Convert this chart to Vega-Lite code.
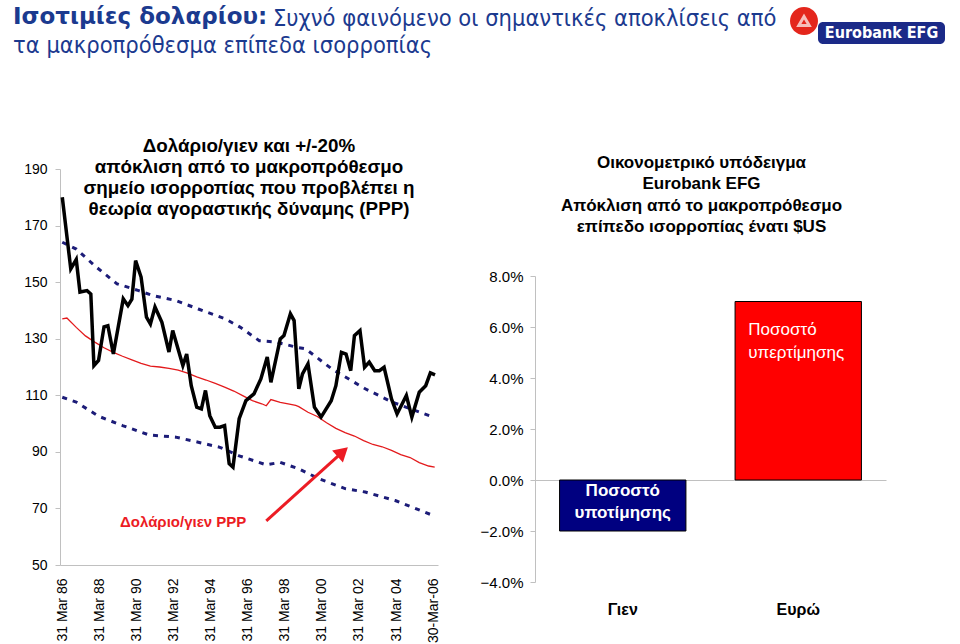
{
  "$schema": "https://vega.github.io/schema/vega-lite/v6.json",
  "background": "white",
  "padding": {"left": 13, "top": 5, "right": 5, "bottom": 0},
  "config": {
    "view": {"stroke": null},
    "font": "Liberation Sans",
    "axis": {"labelFont": "Liberation Sans", "labelColor": "#000000"}
  },
  "datasets": {
    "jpy": [
      {"d":"1986-04-01","v":180},{"d":"1986-09-15","v":154.7},{"d":"1987-01-01","v":158},{"d":"1987-03-15","v":146.5},
      {"d":"1987-08-01","v":147},{"d":"1987-10-15","v":145.8},{"d":"1987-12-15","v":120.5},{"d":"1988-03-15","v":122.3},
      {"d":"1988-07-01","v":134.2},{"d":"1988-09-15","v":134.6},{"d":"1989-01-01","v":124.6},{"d":"1989-07-15","v":144.1},
      {"d":"1989-10-15","v":141.7},{"d":"1990-01-01","v":144},{"d":"1990-03-15","v":157.6},{"d":"1990-07-01","v":151.8},
      {"d":"1990-10-15","v":137.6},{"d":"1991-01-01","v":135.2},{"d":"1991-04-01","v":141.2},{"d":"1991-08-15","v":135.8},
      {"d":"1992-01-01","v":125.3},{"d":"1992-03-15","v":132.9},{"d":"1992-10-01","v":120.5},{"d":"1992-12-15","v":124.6},
      {"d":"1993-03-15","v":113.4},{"d":"1993-07-01","v":105.8},{"d":"1993-10-01","v":105.2},{"d":"1993-12-20","v":111.7},
      {"d":"1994-03-15","v":102.8},{"d":"1994-07-01","v":98.7},{"d":"1994-10-01","v":98.7},{"d":"1995-01-01","v":99.3},
      {"d":"1995-04-01","v":85.8},{"d":"1995-06-15","v":84.6},{"d":"1995-10-15","v":101.7},{"d":"1996-02-25","v":108.1},
      {"d":"1996-08-01","v":110.5},{"d":"1996-12-15","v":115.8},{"d":"1997-04-20","v":123.5},{"d":"1997-07-01","v":114.6},
      {"d":"1998-01-01","v":129.9},{"d":"1998-03-15","v":131.1},{"d":"1998-07-20","v":138.8},{"d":"1998-10-01","v":136.4},
      {"d":"1999-01-01","v":112.3},{"d":"1999-03-15","v":117.6},{"d":"1999-07-01","v":121.1},{"d":"1999-11-05","v":105.8},
      {"d":"2000-03-15","v":102.3},{"d":"2000-10-01","v":108.1},{"d":"2001-01-01","v":113.4},{"d":"2001-04-20","v":125.2},
      {"d":"2001-07-20","v":124.6},{"d":"2001-10-20","v":118.7},{"d":"2002-01-01","v":131.1},{"d":"2002-04-20","v":132.9},
      {"d":"2002-07-20","v":119.9},{"d":"2002-10-20","v":121.7},{"d":"2003-02-05","v":118.7},{"d":"2003-05-08","v":118.7},
      {"d":"2003-08-08","v":119.9},{"d":"2004-01-01","v":108.7},{"d":"2004-04-20","v":103.4},{"d":"2004-10-20","v":109.9},
      {"d":"2005-02-05","v":102.3},{"d":"2005-07-01","v":111.1},{"d":"2005-11-05","v":113.4},{"d":"2006-02-05","v":117.9},
      {"d":"2006-05-08","v":117.2}
    ],
    "ppp": [
      {"d":"1986-04-01","v":137.0},{"d":"1986-07-01","v":137.3},{"d":"1987-01-01","v":134.0},{"d":"1987-07-01","v":131.0},
      {"d":"1988-01-01","v":128.8},{"d":"1988-07-01","v":126.8},{"d":"1989-01-01","v":125.2},{"d":"1989-07-01","v":123.8},
      {"d":"1990-01-01","v":122.5},{"d":"1990-07-01","v":121.3},{"d":"1991-01-01","v":120.3},{"d":"1991-07-01","v":120.0},
      {"d":"1992-01-01","v":119.5},{"d":"1992-07-01","v":118.9},{"d":"1993-01-01","v":117.8},{"d":"1993-07-01","v":116.5},
      {"d":"1994-01-01","v":115.4},{"d":"1994-07-01","v":114.2},{"d":"1995-01-01","v":112.9},{"d":"1995-07-01","v":111.5},
      {"d":"1996-01-01","v":109.8},{"d":"1996-07-01","v":108.1},{"d":"1997-01-01","v":107.0},{"d":"1997-04-01","v":106.3},
      {"d":"1997-07-01","v":108.5},{"d":"1998-01-01","v":107.5},{"d":"1998-07-01","v":106.9},{"d":"1998-11-01","v":106.4},
      {"d":"1999-01-01","v":106.0},{"d":"1999-07-01","v":104.0},{"d":"2000-01-01","v":102.5},{"d":"2000-07-01","v":100.3},
      {"d":"2001-01-01","v":98.3},{"d":"2001-07-01","v":96.8},{"d":"2002-01-01","v":95.6},{"d":"2002-07-01","v":94.0},
      {"d":"2003-01-01","v":92.6},{"d":"2003-07-01","v":91.8},{"d":"2004-01-01","v":90.5},{"d":"2004-07-01","v":89.0},
      {"d":"2005-01-01","v":88.0},{"d":"2005-07-01","v":86.2},{"d":"2006-01-01","v":85.0},{"d":"2006-05-01","v":84.6}
    ],
    "up": [
      {"d":"1986-04-01","v":164.1},{"d":"1987-01-01","v":161.7},{"d":"1988-02-01","v":155.3},{"d":"1989-03-15","v":149.4},
      {"d":"1990-05-15","v":147.0},{"d":"1991-03-01","v":145.2},{"d":"1992-05-15","v":143.5},{"d":"1993-08-01","v":140.5},
      {"d":"1995-01-15","v":137.0},{"d":"1995-11-01","v":134.1},{"d":"1996-11-15","v":129.3},{"d":"1997-10-15","v":128.8},
      {"d":"1998-11-15","v":127.0},{"d":"1999-05-15","v":126.4},{"d":"2000-10-15","v":119.3},{"d":"2002-08-01","v":112.3},
      {"d":"2004-01-15","v":107.6},{"d":"2006-04-01","v":102.3}
    ],
    "lo": [
      {"d":"1986-04-01","v":109.3},{"d":"1987-01-01","v":107.6},{"d":"1988-03-15","v":102.6},{"d":"1989-07-01","v":99.3},
      {"d":"1990-12-01","v":96.0},{"d":"1992-05-15","v":95.2},{"d":"1993-08-01","v":93.4},{"d":"1994-10-01","v":91.6},
      {"d":"1995-10-15","v":88.6},{"d":"1997-04-01","v":85.4},{"d":"1998-01-01","v":86.3},{"d":"1999-01-01","v":84.0},
      {"d":"2000-02-01","v":80.5},{"d":"2001-07-01","v":77.0},{"d":"2002-08-01","v":75.8},{"d":"2004-03-15","v":72.8},
      {"d":"2006-04-01","v":67.5}
    ],
    "arrow": [{"d":"1997-04-01","v":65.6,"d2":"2001-05-15","v2":90.0}],
    "head": [{"d":"2001-05-15","v":90.0}],
    "note": [{"d":"1992-10-07","v":63.5,"t":"Δολάριο/γιεν PPP"}],
    "bars": [
      {"cur":"Γιεν","v":-0.02,"label":"Ποσοστό\nυποτίμησης"},
      {"cur":"Ευρώ","v":0.07,"label":"Ποσοστό\nυπερτίμησης"}
    ]
  },
  "spacing": 80,
  "vconcat": [
    {
      "spacing": 0,
      "bounds": "flush",
      "hconcat": [
        {
          "width": 213, "height": 28,
          "data": {"values": []},
          "mark": "text",
          "title": {
            "text": "Ισοτιμίες δολαρίου:",
            "subtitle": "τα μακροπρόθεσμα επίπεδα ισορροπίας",
            "anchor": "start", "frame": "group", "dx": -47, "offset": -50,
            "font": "DejaVu Sans", "subtitleFont": "DejaVu Sans Condensed, DejaVu Sans",
            "fontSize": 23, "subtitleFontSize": 23.5, "fontWeight": "bold", "subtitleFontWeight": "normal",
            "lineHeight": 27, "subtitleLineHeight": 27, "subtitlePadding": 5,
            "color": "#1b3a8f", "subtitleColor": "#1b3a8f"
          }
        },
        {
          "width": 517, "height": 28,
          "data": {"values": []},
          "mark": "text",
          "title": {
            "text": "Συχνό φαινόμενο οι σημαντικές αποκλίσεις από",
            "anchor": "start", "frame": "group", "offset": -23,
            "font": "DejaVu Sans Condensed, DejaVu Sans", "fontSize": 23.5, "fontWeight": "normal",
            "lineHeight": 27, "color": "#1b3a8f"
          }
        },
        {
          "width": 28, "height": 28,
          "view": {"fill": "#e4261c", "cornerRadius": 14, "stroke": null},
          "data": {"values": [{"k": 1}]},
          "mark": {"type": "point", "shape": "triangle-up", "filled": false, "stroke": "white", "strokeWidth": 3, "size": 110},
          "encoding": {}
        },
        {
          "spacing": 14,
          "vconcat": [
            {"width": 127, "height": 1, "data": {"values": []}, "mark": "text"},
            {
              "width": 127, "height": 22,
              "view": {"fill": "#1b2a88", "cornerRadius": 5, "stroke": null},
              "data": {"values": [{"t": "Eurobank EFG"}]},
              "mark": {"type": "text", "color": "white", "fontSize": 16, "fontWeight": "bold", "font": "DejaVu Sans Condensed, DejaVu Sans"},
              "encoding": {"text": {"field": "t"}}
            }
          ]
        }
      ]
    },
    {
      "spacing": 37,
      "hconcat": [
        {
          "width": 378, "height": 396,
          "title": {
            "text": ["Δολάριο/γιεν και +/-20%", "απόκλιση από το μακροπρόθεσμο", "σημείο ισορροπίας που προβλέπει η", "θεωρία αγοραστικής δύναμης (PPP)"],
            "fontSize": 18.8, "fontWeight": "bold", "lineHeight": 21, "offset": -57, "anchor": "middle", "frame": "group",
            "font": "Liberation Sans", "color": "#000000"
          },
          "encoding": {
            "x": {
              "field": "d", "type": "temporal",
              "scale": {"type": "utc", "domain": [{"year": 1986, "month": 2, "date": 15, "utc": true}, {"year": 2006, "month": 7, "date": 5, "utc": true}]},
              "axis": {
                "title": null, "grid": false, "ticks": false, "domainColor": "#c0c0c0", "labelAngle": 270,
                "labelFontSize": 14, "labelPadding": 13, "labelFlush": false, "labelOverlap": false,
                "values": [
                  {"year": 1986, "month": 3, "date": 31, "utc": true}, {"year": 1988, "month": 3, "date": 31, "utc": true},
                  {"year": 1990, "month": 3, "date": 31, "utc": true}, {"year": 1992, "month": 3, "date": 31, "utc": true},
                  {"year": 1994, "month": 3, "date": 31, "utc": true}, {"year": 1996, "month": 3, "date": 31, "utc": true},
                  {"year": 1998, "month": 3, "date": 31, "utc": true}, {"year": 2000, "month": 3, "date": 31, "utc": true},
                  {"year": 2002, "month": 3, "date": 31, "utc": true}, {"year": 2004, "month": 3, "date": 31, "utc": true},
                  {"year": 2006, "month": 3, "date": 30, "utc": true}
                ],
                "labelExpr": "utcyear(datum.value) == 2006 ? '30-Mar-06' : utcFormat(datum.value, '%d %b %y')"
              }
            },
            "y": {
              "field": "v", "type": "quantitative",
              "scale": {"domain": [50, 190], "nice": false, "zero": false},
              "axis": {
                "title": null, "grid": false, "values": [50, 70, 90, 110, 130, 150, 170, 190],
                "labelFontSize": 14, "domainColor": "#c0c0c0", "tickColor": "#c0c0c0", "tickSize": 5, "labelPadding": 8
              }
            }
          },
          "layer": [
            {"data": {"name": "up"}, "mark": {"type": "line", "color": "#1c1c78", "strokeWidth": 3, "strokeDash": [5, 6]}},
            {"data": {"name": "lo"}, "mark": {"type": "line", "color": "#1c1c78", "strokeWidth": 3, "strokeDash": [5, 6]}},
            {"data": {"name": "ppp"}, "mark": {"type": "line", "color": "#e31a1c", "strokeWidth": 1.3}},
            {"data": {"name": "jpy"}, "mark": {"type": "line", "color": "#000000", "strokeWidth": 3.5}},
            {"data": {"name": "arrow"}, "mark": {"type": "rule", "color": "#ec1c24", "strokeWidth": 3},
             "encoding": {"x2": {"field": "d2"}, "y2": {"field": "v2"}}},
            {"data": {"name": "head"}, "mark": {"type": "point", "shape": "triangle-up", "filled": true, "color": "#ec1c24", "opacity": 1, "size": 260, "angle": 48}},
            {"data": {"name": "note"}, "mark": {"type": "text", "color": "#ec1c24", "fontWeight": "bold", "fontSize": 15, "align": "center", "baseline": "alphabetic"},
             "encoding": {"text": {"field": "t"}}}
          ]
        },
        {
          "width": 351, "height": 413,
          "data": {"name": "bars"},
          "title": {
            "text": ["Οικονομετρικό υπόδειγμα", "Eurobank EFG", "Απόκλιση από το μακροπρόθεσμο", "επίπεδο ισορροπίας ένατι $US"],
            "fontSize": 17, "fontWeight": "bold", "lineHeight": 21.5, "offset": -67, "anchor": "middle", "frame": "group", "dx": -9,
            "font": "Liberation Sans", "color": "#000000"
          },
          "encoding": {
            "x": {
              "field": "cur", "type": "nominal",
              "scale": {"domain": ["Γιεν", "Ευρώ"], "paddingInner": 0.28, "paddingOuter": 0.14},
              "axis": {"title": null, "labelAngle": 0, "domain": false, "ticks": false, "labelPadding": 19, "labelFontSize": 16, "labelFontWeight": "bold", "orient": "bottom"}
            },
            "y": {
              "field": "v", "type": "quantitative",
              "scale": {"domain": [-0.04, 0.08], "range": [413, 107], "nice": false, "zero": false},
              "axis": {
                "title": null, "values": [-0.04, -0.02, 0, 0.02, 0.04, 0.06, 0.08], "format": ".1%",
                "labelFontSize": 15, "domainColor": "#c0c0c0", "tickColor": "#c0c0c0", "tickSize": 5, "labelPadding": 7,
                "grid": true, "gridColor": {"condition": {"test": "datum.value === 0", "value": "#c0c0c0"}, "value": "transparent"}
              }
            }
          },
          "layer": [
            {"mark": {"type": "bar", "stroke": "#000000", "strokeWidth": 1},
             "encoding": {"color": {"field": "cur", "type": "nominal", "scale": {"domain": ["Γιεν", "Ευρώ"], "range": ["#000080", "#ff0000"]}, "legend": null}}},
            {"transform": [{"filter": "datum.cur == 'Ευρώ'"}],
             "mark": {"type": "text", "color": "white", "fontSize": 17, "align": "left", "baseline": "top", "dx": -50, "dy": 20, "lineBreak": "\n", "lineHeight": 23},
             "encoding": {"text": {"field": "label"}}},
            {"transform": [{"filter": "datum.cur == 'Γιεν'"}],
             "mark": {"type": "text", "color": "white", "fontSize": 17, "fontWeight": "bold", "align": "center", "baseline": "top", "dy": 3, "lineBreak": "\n", "lineHeight": 22},
             "encoding": {"y": {"datum": 0, "type": "quantitative"}, "text": {"field": "label"}}}
          ]
        }
      ]
    }
  ]
}
